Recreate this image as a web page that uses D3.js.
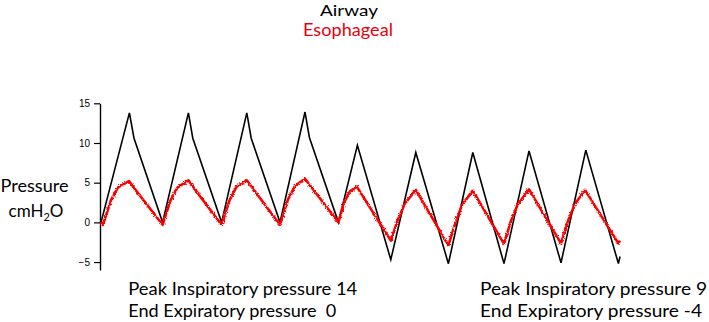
<!DOCTYPE html>
<html>
<head>
<meta charset="utf-8">
<script src="https://cdn.jsdelivr.net/npm/d3@7"></script>
<style>
  body { margin: 0; background: #fff; }
  svg { display: block; }
</style>
</head>
<body>
<div id="chart"></div>
<script>
// airway pressure trace (time in s, pressure in cmH2O)
const airwayTime = [0, 1.42, 1.65, 3.08, 4.37, 4.59, 6.03, 7.29, 7.51, 8.95, 10.2, 10.42, 11.87,
  12.82, 14.49, 15.74, 17.37, 18.59, 20.15, 21.4, 23.0, 24.24, 25.87, 25.95];
const airwayValue = [0, 13.8, 10.6, 0, 13.8, 10.6, 0, 13.8, 10.6, 0, 13.9, 10.7, 0,
  9.7, -4.7, 8.8, -5.2, 8.8, -5.2, 9.0, -5.1, 9.1, -5.2, -4.3];

// esophageal pressure trace
const esoTime = [0, 0.1, 0.5, 0.85, 1.4, 2.0, 3.08, 3.48, 3.83, 4.37, 4.95, 6.03, 6.43, 6.78, 7.29, 7.88,
  8.95, 9.35, 9.7, 10.2, 10.8, 11.87, 12.15, 12.45, 12.79, 14.49, 14.85, 15.2, 15.74, 17.37,
  17.73, 18.05, 18.59, 20.15, 20.5, 20.85, 21.4, 23.0, 23.35, 23.7, 24.2, 25.87, 25.95];
const esoValue = [0, -0.3, 2.8, 4.4, 5.2, 3.2, -0.3, 2.8, 4.4, 5.3, 3.3, -0.3, 2.8, 4.5, 5.3, 3.3,
  -0.3, 2.9, 4.6, 5.5, 3.5, 0, 2.5, 3.9, 4.5, -2.3, 0.4, 2.4, 4.1, -2.9,
  0.0, 2.2, 4.0, -2.7, 0.2, 2.3, 4.15, -2.65, 0.2, 2.3, 4.1, -2.65, -2.3];

const yTicks = [-5, 0, 5, 10, 15];
const seriesNames = ["Airway", "Esophageal"];
const notesLeft = ["Peak Inspiratory pressure 14", "End Expiratory pressure  0"];
const notesRight = ["Peak Inspiratory pressure 9", "End Expiratory pressure -4"];

const W = 709, H = 322;
const font = "Lato, 'Open Sans', sans-serif";

const svg = d3.select("#chart").append("svg")
    .attr("width", W).attr("height", H)
    .attr("viewBox", `0 0 ${W} ${H}`);

// jitter for the noisy esophageal signal
const defs = svg.append("defs");
const f = defs.append("filter").attr("id", "noise")
    .attr("filterUnits", "userSpaceOnUse")
    .attr("x", 90).attr("y", 90).attr("width", 550).attr("height", 200);
f.append("feTurbulence").attr("type", "fractalNoise")
    .attr("baseFrequency", 0.9).attr("numOctaves", 1).attr("seed", 3).attr("result", "t");
f.append("feDisplacementMap").attr("in", "SourceGraphic").attr("in2", "t")
    .attr("scale", 3.5).attr("xChannelSelector", "R").attr("yChannelSelector", "G");

const x = d3.scaleLinear().domain([0, 26]).range([101, 621]);
const y = d3.scaleLinear().domain([-6, 15]).range([270, 103.3]);

// y axis
const yAxis = svg.append("g")
    .attr("transform", "translate(100,0)")
    .call(d3.axisLeft(y).tickValues(yTicks).tickSize(6).tickPadding(4).tickSizeOuter(0));
yAxis.select(".domain").attr("stroke", "#000").attr("stroke-width", 1.4);
yAxis.selectAll(".tick line").attr("stroke", "#000").attr("stroke-width", 1.2);
yAxis.selectAll(".tick text")
    .attr("font-family", "'Liberation Sans', Arial, sans-serif")
    .attr("font-size", 10).attr("fill", "#000");

const line = d3.line().x(d => x(d[0])).y(d => y(d[1]));

svg.append("path")
    .datum(d3.zip(airwayTime, airwayValue))
    .attr("d", line)
    .attr("fill", "none")
    .attr("stroke", "#000")
    .attr("stroke-width", 1.6)
    .attr("stroke-linejoin", "miter");

svg.append("path")
    .datum(d3.zip(esoTime, esoValue))
    .attr("d", line)
    .attr("fill", "none")
    .attr("stroke", "#ff0000")
    .attr("stroke-width", 2.6)
    .attr("stroke-linejoin", "round")
    .attr("filter", "url(#noise)");

// legend titles
svg.append("text").attr("x", 349).attr("y", 16)
    .attr("text-anchor", "middle").attr("font-family", font).attr("font-size", 16)
    .attr("textLength", 58).attr("lengthAdjust", "spacingAndGlyphs")
    .attr("fill", "#000").text(seriesNames[0]);
svg.append("text").attr("x", 348).attr("y", 35.5)
    .attr("text-anchor", "middle").attr("font-family", font).attr("font-size", 16.5)
    .attr("textLength", 90).attr("lengthAdjust", "spacingAndGlyphs")
    .attr("fill", "#e8000b").text(seriesNames[1]);

// y label
svg.append("text").attr("x", 34.5).attr("y", 191.7)
    .attr("text-anchor", "middle").attr("font-family", font).attr("font-size", 17)
    .attr("textLength", 68).attr("lengthAdjust", "spacingAndGlyphs")
    .text("Pressure");
const unit = svg.append("text").attr("x", 36).attr("y", 217.3)
    .attr("text-anchor", "middle").attr("font-family", font).attr("font-size", 17);
unit.append("tspan").text("cmH");
unit.append("tspan").attr("font-size", 11).attr("dy", 4).text("2");
unit.append("tspan").attr("dy", -4).text("O");

// notes
notesLeft.forEach((t, i) => {
  svg.append("text").attr("x", 128.3).attr("y", 295 + i * 21.5)
      .attr("font-family", font).attr("font-size", 17)
      .attr("textLength", i === 0 ? 229 : 208).attr("lengthAdjust", "spacingAndGlyphs")
      .style("white-space", "pre")
      .text(t);
});
notesRight.forEach((t, i) => {
  svg.append("text").attr("x", 480).attr("y", 295 + i * 21.5)
      .attr("font-family", font).attr("font-size", 17)
      .attr("textLength", i === 0 ? 227 : 222).attr("lengthAdjust", "spacingAndGlyphs")
      .text(t);
});
</script>
</body>
</html>
